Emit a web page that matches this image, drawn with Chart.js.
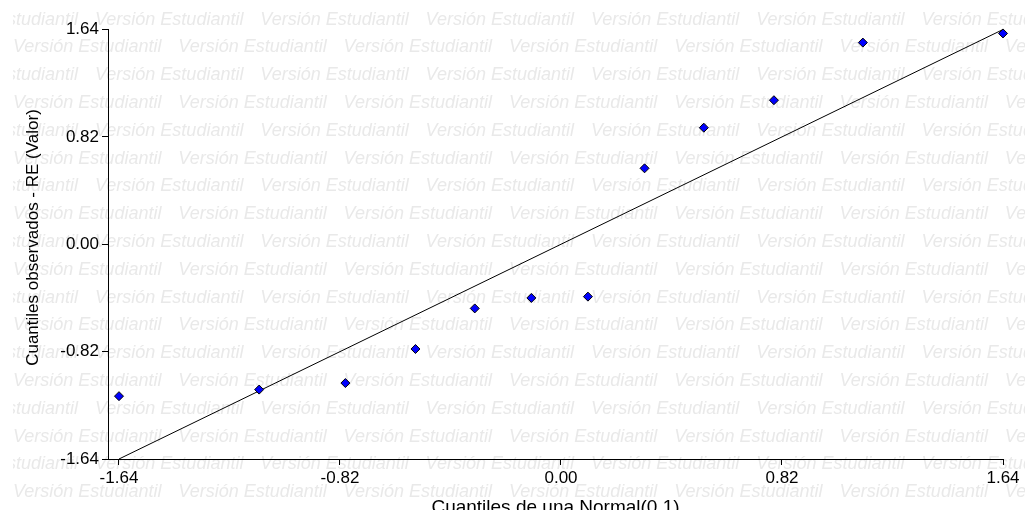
<!DOCTYPE html>
<html lang="es">
<head>
<meta charset="utf-8">
<title>Q-Q plot RE</title>
<script src="https://cdn.jsdelivr.net/npm/chart.js@4.4.1/dist/chart.umd.min.js"></script>
<style>
  html, body { margin: 0; padding: 0; background: #fff; overflow: hidden; }
  #wrap { width: 1025px; height: 530px; }
</style>
</head>
<body>
<div id="wrap"><canvas id="qqChart" width="1025" height="530"></canvas></div>
<script>
// cuantiles teóricos de la normal y cuantiles observados de RE
const normalQuantiles = [-1.64, -1.12, -0.80, -0.54, -0.32, -0.11, 0.10, 0.31, 0.53, 0.79, 1.12, 1.64];
const observedQuantiles = [-1.16, -1.11, -1.06, -0.80, -0.49, -0.41, -0.40, 0.58, 0.89, 1.10, 1.54, 1.61];

// recta de referencia y = x
const refLineX = [-1.64, 1.64];
const refLineY = [-1.64, 1.64];

const tickValues = [-1.64, -0.82, 0.00, 0.82, 1.64];

const xTitle = "Cuantiles de una Normal(0,1)";
const yTitle = "Cuantiles observados - RE (Valor)";
const watermarkText = "Versión Estudiantil";

const FONT = '"Liberation Sans", Arial, sans-serif';

// marca de agua de fondo, filas desplazadas alternadamente
const watermark = {
    id: "watermark",
    beforeDraw(chart) {
        const ctx = chart.ctx;
        ctx.save();
        ctx.beginPath();
        ctx.rect(13, 0, chart.width - 13, chart.height);
        ctx.clip();
        ctx.font = `italic 18px ${FONT}`;
        ctx.fillStyle = "#e9e9e9";
        ctx.textBaseline = "middle";
        ctx.textAlign = "left";
        for (let row = 0; row < 20; row++) {
            const y = 19.5 + row * 27.8;
            let x = row % 2 === 0 ? 95 - 165.3 : 13;
            for (; x < chart.width; x += 165.3) ctx.fillText(watermarkText, x, y);
        }
        ctx.restore();
    }
};

// título del eje Y, algo por encima del centro del área
const yAxisTitle = {
    id: "yAxisTitle",
    afterDraw(chart) {
        const ctx = chart.ctx;
        ctx.save();
        ctx.translate(33.2, 237.5);
        ctx.rotate(-Math.PI / 2);
        ctx.font = `17px ${FONT}`;
        ctx.fillStyle = "#000";
        ctx.textAlign = "center";
        ctx.textBaseline = "middle";
        ctx.fillText(yTitle, 0, 0);
        ctx.restore();
    }
};

const setTicks = scale => { scale.ticks = tickValues.map(v => ({value: v})); };

const ctx = document.getElementById("qqChart").getContext("2d");
new Chart(ctx, {
    type: "scatter",
    data: {
        datasets: [{
            label: "RE",
            data: normalQuantiles.map((q, i) => ({x: q, y: observedQuantiles[i]})),
            pointStyle: "rectRot",
            pointRadius: 4.5,
            pointBackgroundColor: "#0000ff",
            pointBorderColor: "#000",
            pointBorderWidth: 1,
            clip: false,
            order: 0
        }, {
            type: "line",
            label: "y = x",
            data: refLineX.map((v, i) => ({x: v, y: refLineY[i]})),
            borderColor: "#000",
            borderWidth: 1,
            pointRadius: 0,
            fill: false,
            clip: false,
            order: 1
        }]
    },
    options: {
        responsive: false,
        animation: false,
        layout: { padding: { top: 29.5, right: 22, left: 0, bottom: 0 } },
        plugins: {
            legend: { display: false },
            tooltip: { enabled: false }
        },
        scales: {
            x: {
                type: "linear",
                min: -1.6808,
                max: 1.64,
                afterBuildTicks: setTicks,
                afterFit: scale => { scale.height = 71; },
                grid: { drawOnChartArea: false, drawTicks: true, tickLength: 6, color: "#000", lineWidth: 1 },
                border: { display: true, color: "#000", width: 1 },
                ticks: {
                    color: "#000",
                    font: { family: FONT, size: 17 },
                    padding: 3,
                    maxRotation: 0,
                    callback: v => v.toFixed(2)
                },
                title: {
                    display: true,
                    text: xTitle,
                    color: "#000",
                    font: { family: FONT, size: 19 },
                    padding: { top: 0, bottom: 11 }
                }
            },
            y: {
                type: "linear",
                min: -1.64,
                max: 1.64,
                afterBuildTicks: setTicks,
                afterFit: scale => { scale.width = 108; },
                grid: { drawOnChartArea: false, drawTicks: true, tickLength: 6, color: "#000", lineWidth: 1 },
                border: { display: true, color: "#000", width: 1 },
                ticks: {
                    color: "#000",
                    font: { family: FONT, size: 17 },
                    padding: 3,
                    callback: v => v.toFixed(2)
                }
            }
        }
    },
    plugins: [watermark, yAxisTitle]
});
</script>
</body>
</html>
